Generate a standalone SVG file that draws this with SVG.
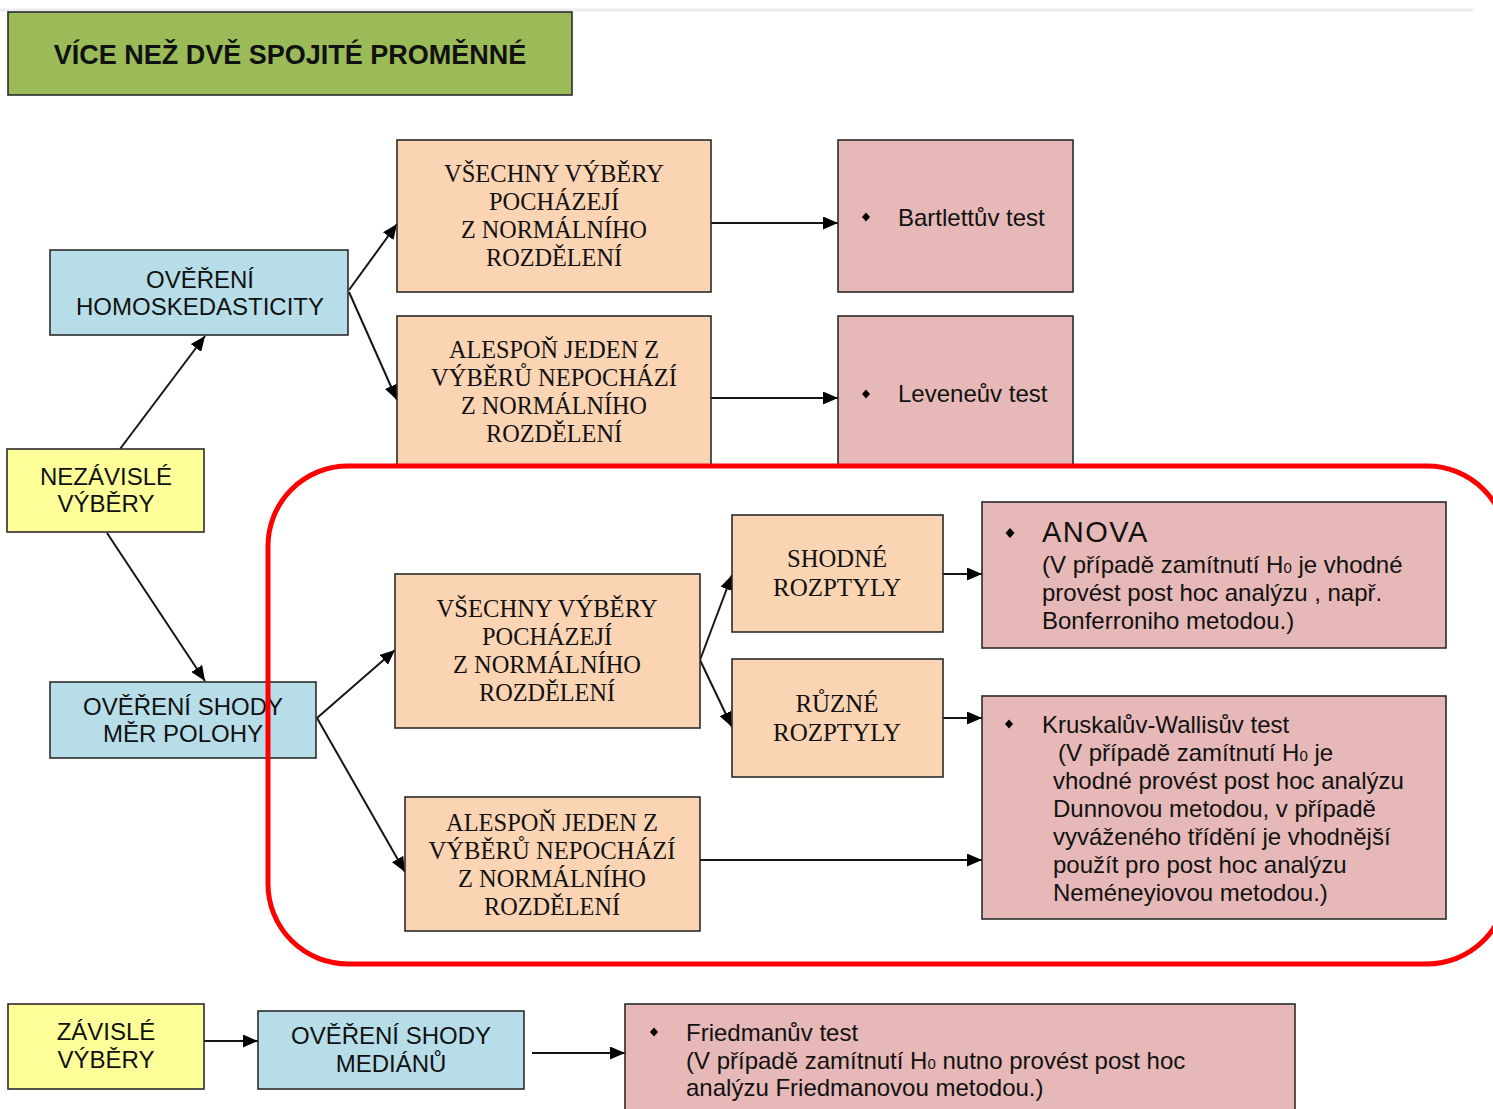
<svg xmlns="http://www.w3.org/2000/svg" width="1493" height="1109" viewBox="0 0 1493 1109">
  <style>
    .box { stroke: #2b2b2b; stroke-width: 1.6; }
    .title { fill: #9BBB59; }
    .blue { fill: #B7DEE8; }
    .yellow { fill: #FFFF99; }
    .peach { fill: #FBD4B4; }
    .pink { fill: #E6B8B7; }
    .sans { font-family: "Liberation Sans", Arial, sans-serif; font-size: 24px; fill: #111; }
    .serif { font-family: "Liberation Serif", "Times New Roman", serif; font-size: 26px; fill: #111; }
    .ctr { text-anchor: middle; }
    .bold { font-weight: bold; font-size: 27px; }
    .big { font-size: 29px; letter-spacing: 1.5px; }
    .sub { font-size: 15px; }
    .link { stroke: #151515; stroke-width: 2; fill: none; marker-end: url(#arrow); }
    .bullet { fill: #000; }
  </style>
  <defs>
    <marker id="arrow" markerUnits="userSpaceOnUse" markerWidth="15" markerHeight="13" refX="15" refY="6.5" orient="auto">
      <path d="M0,0 L15,6.5 L0,13 z" fill="#000"/>
    </marker>
  </defs>

  <rect width="1493" height="1109" fill="#fff"/>
  <line x1="0" y1="10" x2="1473" y2="10" stroke="#ececec" stroke-width="3"/>

  <g id="title">
    <rect class="box title" x="8" y="12" width="564" height="83"/>
    <text class="sans bold ctr" x="290" y="64">VÍCE NEŽ DVĚ SPOJITÉ PROMĚNNÉ</text>
  </g>

  <g id="connectors">
    <line class="link" x1="120" y1="449" x2="205" y2="336"/>
    <line class="link" x1="107" y1="533" x2="205" y2="681"/>
    <line class="link" x1="349" y1="290" x2="397" y2="224"/>
    <line class="link" x1="349" y1="292" x2="397" y2="400"/>
    <line class="link" x1="711" y1="223" x2="838" y2="223"/>
    <line class="link" x1="711" y1="398" x2="838" y2="398"/>
    <line class="link" x1="317" y1="718" x2="395" y2="650"/>
    <line class="link" x1="317" y1="718" x2="405" y2="872"/>
    <line class="link" x1="700" y1="660" x2="732" y2="575"/>
    <line class="link" x1="700" y1="660" x2="732" y2="727"/>
    <line class="link" x1="943" y1="574" x2="982" y2="574"/>
    <line class="link" x1="943" y1="718" x2="982" y2="718"/>
    <line class="link" x1="700" y1="860" x2="982" y2="860"/>
    <line class="link" x1="204" y1="1041" x2="258" y2="1041"/>
    <line class="link" x1="532" y1="1053" x2="625" y2="1053"/>
  </g>

  <g id="homoskedasticity">
    <rect class="box blue" x="50" y="250" width="298" height="85"/>
    <text class="sans ctr" x="200" y="288">OVĚŘENÍ</text>
    <text class="sans ctr" x="200" y="315">HOMOSKEDASTICITY</text>
  </g>

  <g id="nezavisle">
    <rect class="box yellow" x="7" y="449" width="197" height="83"/>
    <text class="sans ctr" x="106" y="485">NEZÁVISLÉ</text>
    <text class="sans ctr" x="106" y="512">VÝBĚRY</text>
  </g>

  <g id="normal-top">
    <rect class="box peach" x="397" y="140" width="314" height="152"/>
    <text class="serif ctr" x="554" y="182" textLength="220" lengthAdjust="spacingAndGlyphs">VŠECHNY VÝBĚRY</text>
    <text class="serif ctr" x="554" y="210" textLength="130" lengthAdjust="spacingAndGlyphs">POCHÁZEJÍ</text>
    <text class="serif ctr" x="554" y="238" textLength="186" lengthAdjust="spacingAndGlyphs">Z NORMÁLNÍHO</text>
    <text class="serif ctr" x="554" y="266" textLength="136" lengthAdjust="spacingAndGlyphs">ROZDĚLENÍ</text>
  </g>

  <g id="nonnormal-top">
    <rect class="box peach" x="397" y="316" width="314" height="150"/>
    <text class="serif ctr" x="554" y="358" textLength="210" lengthAdjust="spacingAndGlyphs">ALESPOŇ JEDEN Z</text>
    <text class="serif ctr" x="554" y="386" textLength="246" lengthAdjust="spacingAndGlyphs">VÝBĚRŮ NEPOCHÁZÍ</text>
    <text class="serif ctr" x="554" y="414" textLength="186" lengthAdjust="spacingAndGlyphs">Z NORMÁLNÍHO</text>
    <text class="serif ctr" x="554" y="442" textLength="136" lengthAdjust="spacingAndGlyphs">ROZDĚLENÍ</text>
  </g>

  <g id="bartlett">
    <rect class="box pink" x="838" y="140" width="235" height="152"/>
    <polygon class="bullet" points="866,212.5 870,217 866,221.5 862,217"/>
    <text class="sans" x="898" y="226">Bartlettův test</text>
  </g>

  <g id="levene">
    <rect class="box pink" x="838" y="316" width="235" height="150"/>
    <polygon class="bullet" points="866,389.5 870,394 866,398.5 862,394"/>
    <text class="sans" x="898" y="402">Leveneův test</text>
  </g>

  <g id="shoda-polohy">
    <rect class="box blue" x="50" y="682" width="266" height="76"/>
    <text class="sans ctr" x="183" y="715">OVĚŘENÍ SHODY</text>
    <text class="sans ctr" x="183" y="742">MĚR POLOHY</text>
  </g>

  <g id="normal-mid">
    <rect class="box peach" x="395" y="574" width="305" height="154"/>
    <text class="serif ctr" x="547" y="617" textLength="221" lengthAdjust="spacingAndGlyphs">VŠECHNY VÝBĚRY</text>
    <text class="serif ctr" x="547" y="645" textLength="130" lengthAdjust="spacingAndGlyphs">POCHÁZEJÍ</text>
    <text class="serif ctr" x="547" y="673" textLength="188" lengthAdjust="spacingAndGlyphs">Z NORMÁLNÍHO</text>
    <text class="serif ctr" x="547" y="701" textLength="136" lengthAdjust="spacingAndGlyphs">ROZDĚLENÍ</text>
  </g>

  <g id="nonnormal-low">
    <rect class="box peach" x="405" y="797" width="295" height="134"/>
    <text class="serif ctr" x="552" y="831" textLength="212" lengthAdjust="spacingAndGlyphs">ALESPOŇ JEDEN Z</text>
    <text class="serif ctr" x="552" y="859" textLength="247" lengthAdjust="spacingAndGlyphs">VÝBĚRŮ NEPOCHÁZÍ</text>
    <text class="serif ctr" x="552" y="887" textLength="188" lengthAdjust="spacingAndGlyphs">Z NORMÁLNÍHO</text>
    <text class="serif ctr" x="552" y="915" textLength="136" lengthAdjust="spacingAndGlyphs">ROZDĚLENÍ</text>
  </g>

  <g id="shodne-rozptyly">
    <rect class="box peach" x="732" y="515" width="211" height="117"/>
    <text class="serif ctr" x="837" y="567" textLength="100" lengthAdjust="spacingAndGlyphs">SHODNÉ</text>
    <text class="serif ctr" x="837" y="596" textLength="128" lengthAdjust="spacingAndGlyphs">ROZPTYLY</text>
  </g>

  <g id="ruzne-rozptyly">
    <rect class="box peach" x="732" y="659" width="211" height="118"/>
    <text class="serif ctr" x="837" y="712" textLength="83" lengthAdjust="spacingAndGlyphs">RŮZNÉ</text>
    <text class="serif ctr" x="837" y="741" textLength="128" lengthAdjust="spacingAndGlyphs">ROZPTYLY</text>
  </g>

  <g id="anova">
    <rect class="box pink" x="982" y="502" width="464" height="146"/>
    <polygon class="bullet" points="1010,528 1014.5,533 1010,538 1005.5,533"/>
    <text class="sans big" x="1042" y="542">ANOVA</text>
    <text class="sans" x="1042" y="573">(V případě zamítnutí H<tspan class="sub">0</tspan> je vhodné</text>
    <text class="sans" x="1042" y="601">provést post hoc analýzu , např.</text>
    <text class="sans" x="1042" y="629">Bonferroniho metodou.)</text>
  </g>

  <g id="kruskal-wallis">
    <rect class="box pink" x="982" y="696" width="464" height="223"/>
    <polygon class="bullet" points="1009,719.5 1013,724 1009,728.5 1005,724"/>
    <text class="sans" x="1042" y="733">Kruskalův-Wallisův test</text>
    <text class="sans" x="1058" y="761">(V případě zamítnutí H<tspan class="sub">0</tspan> je</text>
    <text class="sans" x="1053" y="789">vhodné provést post hoc analýzu</text>
    <text class="sans" x="1053" y="817">Dunnovou metodou,  v případě</text>
    <text class="sans" x="1053" y="845">vyváženého třídění je vhodnější</text>
    <text class="sans" x="1053" y="873">použít pro post hoc analýzu</text>
    <text class="sans" x="1053" y="901">Neméneyiovou metodou.)</text>
  </g>

  <g id="zavisle">
    <rect class="box yellow" x="8" y="1004" width="196" height="85"/>
    <text class="sans ctr" x="106" y="1040">ZÁVISLÉ</text>
    <text class="sans ctr" x="106" y="1068">VÝBĚRY</text>
  </g>

  <g id="shoda-medianu">
    <rect class="box blue" x="258" y="1011" width="266" height="78"/>
    <text class="sans ctr" x="391" y="1044">OVĚŘENÍ SHODY</text>
    <text class="sans ctr" x="391" y="1072">MEDIÁNŮ</text>
  </g>

  <g id="friedman">
    <rect class="box pink" x="625" y="1004" width="670" height="110"/>
    <polygon class="bullet" points="654,1027.5 658,1032 654,1036.5 650,1032"/>
    <text class="sans" x="686" y="1041">Friedmanův test</text>
    <text class="sans" x="686" y="1069">(V případě zamítnutí H<tspan class="sub">0</tspan> nutno provést post hoc</text>
    <text class="sans" x="686" y="1096">analýzu Friedmanovou metodou.)</text>
  </g>

  <!-- highlight frame around the branch for independent samples -->
  <g id="highlight">
    <rect x="268" y="466" width="1239" height="498" rx="80" ry="80" fill="none" stroke="#ff0000" stroke-width="5"/>
  </g>
</svg>
